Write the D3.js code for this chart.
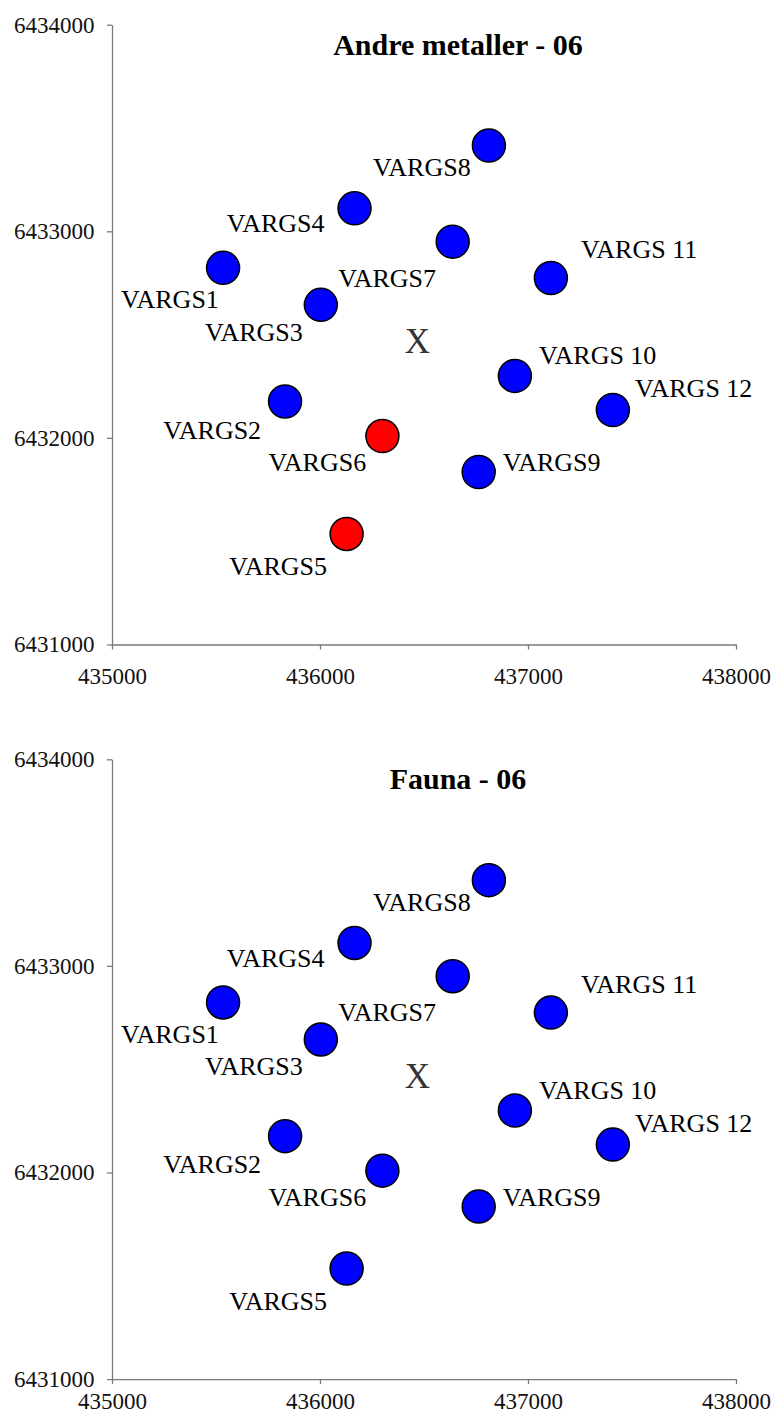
<!DOCTYPE html>
<html>
<head>
<meta charset="utf-8">
<script src="https://cdn.jsdelivr.net/npm/d3@7"></script>
<style>
  html, body { margin: 0; padding: 0; background: #fff; }
  svg { display: block; }
</style>
</head>
<body>
<svg id="chart" width="774" height="1419"></svg>
<script>
// ---------- data ----------
const stations = ["VARGS1","VARGS2","VARGS3","VARGS4","VARGS5","VARGS6",
                  "VARGS7","VARGS8","VARGS9","VARGS10","VARGS11","VARGS12"];
const stationLabels = ["VARGS1","VARGS2","VARGS3","VARGS4","VARGS5","VARGS6",
                       "VARGS7","VARGS8","VARGS9","VARGS 10","VARGS 11","VARGS 12"];
const eastings  = [435534, 435832, 436004, 436166, 436128, 436300,
                   436638, 436812, 436763, 436937, 437110, 437408];
const northings = [6432823, 6432176, 6432644, 6433111, 6431535, 6432009,
                   6432950, 6433415, 6431835, 6432300, 6432774, 6432135];
// true = red (above limit), false = blue
const andreMetallerFlag = [false, false, false, false, true, true,
                           false, false, false, false, false, false];
const faunaFlag         = [false, false, false, false, false, false,
                           false, false, false, false, false, false];
const centerEasting  = [436468];
const centerNorthing = [6432467];
const centerLabel = ["X"];
const chartTitles = ["Andre metaller - 06", "Fauna - 06"];
const xTicks = [435000, 436000, 437000, 438000];
const yTicks = [6431000, 6432000, 6433000, 6434000];

// ---------- layout (pixels) ----------
const FONT = '"Liberation Serif", "Times New Roman", serif';
const labelDx = [-102, -121.7, -115.8, -127.8, -117.4, -114, -114.5, -116, 24, 24.2, 30, 22.2];
const labelDy = [40.5, 37, 36, 24, 41.3, 35, 45, 30.5, -1, -11.5, -19.5, -13];
const chartTops = [24.7, 759.3];
const xLabelPad = [17.7, 8.2];
const plotLeft = 112, plotRight = 736, plotHeight = 619.8;
const titleX = 458;

const svg = d3.select("#chart");
const x = d3.scaleLinear().domain([435000, 438000]).range([plotLeft, plotRight]);

const flagsPerChart = [andreMetallerFlag, faunaFlag];

chartTops.forEach((top, ci) => {
  const g = svg.append("g").attr("font-family", FONT);
  const y = d3.scaleLinear().domain([6431000, 6434000]).range([top + plotHeight, top]);

  // y axis
  const ya = g.append("g")
    .attr("transform", `translate(${plotLeft},0)`)
    .call(d3.axisLeft(y).tickValues(yTicks).tickSize(5).tickSizeOuter(0)
          .tickPadding(12.5).tickFormat(d3.format("d")));
  // x axis
  const xa = g.append("g")
    .attr("transform", `translate(0,${top + plotHeight})`)
    .call(d3.axisBottom(x).tickValues(xTicks).tickSize(5).tickSizeOuter(0)
          .tickPadding(xLabelPad[ci]).tickFormat(d3.format("d")));
  [ya, xa].forEach(a => {
    a.attr("font-family", FONT).attr("font-size", 23);
    a.select(".domain").attr("stroke", "#7a7a7a").attr("stroke-width", 1.3);
    a.selectAll(".tick line").attr("stroke", "#7a7a7a").attr("stroke-width", 1.3);
    a.selectAll(".tick text")
      .attr("fill", "#111")
      .attr("font-family", FONT)
      .attr("font-size", 23);
  });

  // title
  g.append("text")
    .attr("x", titleX)
    .attr("y", top + 30)
    .attr("text-anchor", "middle")
    .attr("font-family", FONT)
    .attr("font-size", 30)
    .attr("font-weight", "bold")
    .attr("fill", "#000")
    .text(chartTitles[ci]);

  // centre marker
  g.selectAll("text.center")
    .data(centerEasting.map((e, i) => ({e, n: centerNorthing[i], t: centerLabel[i]})))
    .enter().append("text")
    .attr("class", "center")
    .attr("x", d => x(d.e))
    .attr("y", d => y(d.n) + 35 * 0.331)
    .attr("text-anchor", "middle")
    .attr("font-family", FONT)
    .attr("font-size", 35)
    .attr("fill", "#333")
    .text(d => d.t);

  const flags = flagsPerChart[ci];
  const pts = stations.map((s, i) => ({
    s, label: stationLabels[i], e: eastings[i], n: northings[i], red: flags[i], i
  }));

  g.selectAll("circle.pt").data(pts).enter().append("circle")
    .attr("class", "pt")
    .attr("cx", d => x(d.e))
    .attr("cy", d => y(d.n))
    .attr("r", 16.5)
    .attr("fill", d => d.red ? "#FF0000" : "#0000FF")
    .attr("stroke", "#000")
    .attr("stroke-width", 1.5);

  g.selectAll("text.lbl").data(pts).enter().append("text")
    .attr("class", "lbl")
    .attr("x", d => x(d.e) + labelDx[d.i])
    .attr("y", d => y(d.n) + labelDy[d.i])
    .attr("font-family", FONT)
    .attr("font-size", 26)
    .attr("fill", "#000")
    .text(d => d.label);
});
</script>
</body>
</html>
